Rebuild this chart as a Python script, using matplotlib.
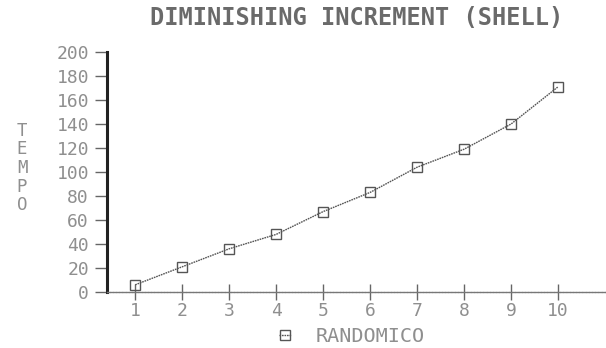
import matplotlib
matplotlib.use("Agg")
import matplotlib.pyplot as plt

# Data
x_values = [1, 2, 3, 4, 5, 6, 7, 8, 9, 10]
tempo = [6, 21, 36, 48, 67, 83, 104, 119, 140, 171]
y_ticks = [0, 20, 40, 60, 80, 100, 120, 140, 160, 180, 200]
series_label = "RANDOMICO"
title = "DIMINISHING INCREMENT (SHELL)"
ylabel = "TEMPO"

W, H = 606, 348
fig = plt.figure(figsize=(W / 100, H / 100), dpi=100)
fig.patch.set_facecolor("white")

left, right, bottom, top = 107, 606, 292, 52
ax = fig.add_axes([left / W, 1 - bottom / H, (right - left) / W, (bottom - top) / H])
ax.set_facecolor("white")

mono = "DejaVu Sans Mono"
txt_color = "#8f8f8f"

line, = ax.plot(x_values, tempo, linestyle=(0, (1.2, 0.6)), linewidth=1.0, color="#555555",
                marker="s", markersize=7, markerfacecolor="none", markeredgecolor="#555555",
                markeredgewidth=1.0, label=series_label, clip_on=False)

ax.set_xlim(0.4, 11.02)
ax.set_ylim(0, 200)
ax.set_xticks(x_values)
ax.set_yticks(y_ticks)

for s in ["top", "right"]:
    ax.spines[s].set_visible(False)
ax.spines["left"].set_linewidth(2.2)
ax.spines["left"].set_color("#222222")
ax.spines["bottom"].set_linewidth(1.0)
ax.spines["bottom"].set_color("#777777")
ax.spines["bottom"].set_linestyle((0, (1.5, 0.8)))

ax.tick_params(axis="y", direction="out", length=9, width=1.0, color="#666666",
               pad=4, labelsize=13, labelcolor=txt_color)
ax.tick_params(axis="x", direction="inout", length=12, width=1.0, color="#666666",
               pad=1, labelsize=13, labelcolor=txt_color)
for lab in ax.get_xticklabels() + ax.get_yticklabels():
    lab.set_fontfamily(mono)

fig.text(357 / W, 1 - 18 / H, title, ha="center", va="center", fontsize=17,
         fontweight="bold", family=mono, color="#6a6a6a")

fig.text(22 / W, 1 - 168 / H, "\n".join(ylabel), ha="center", va="center", fontsize=12.5,
         family=mono, color=txt_color, linespacing=1.05)

leg = fig.legend(handles=[line], labels=[series_label], loc="center",
                 bbox_to_anchor=(352 / W, 1 - 337 / H), frameon=False, handlelength=0.6,
                 handletextpad=1.2, numpoints=1, prop={"family": mono, "size": 14.5})
for t in leg.get_texts():
    t.set_color(txt_color)

fig.savefig("out.png", dpi=100, facecolor="white")
